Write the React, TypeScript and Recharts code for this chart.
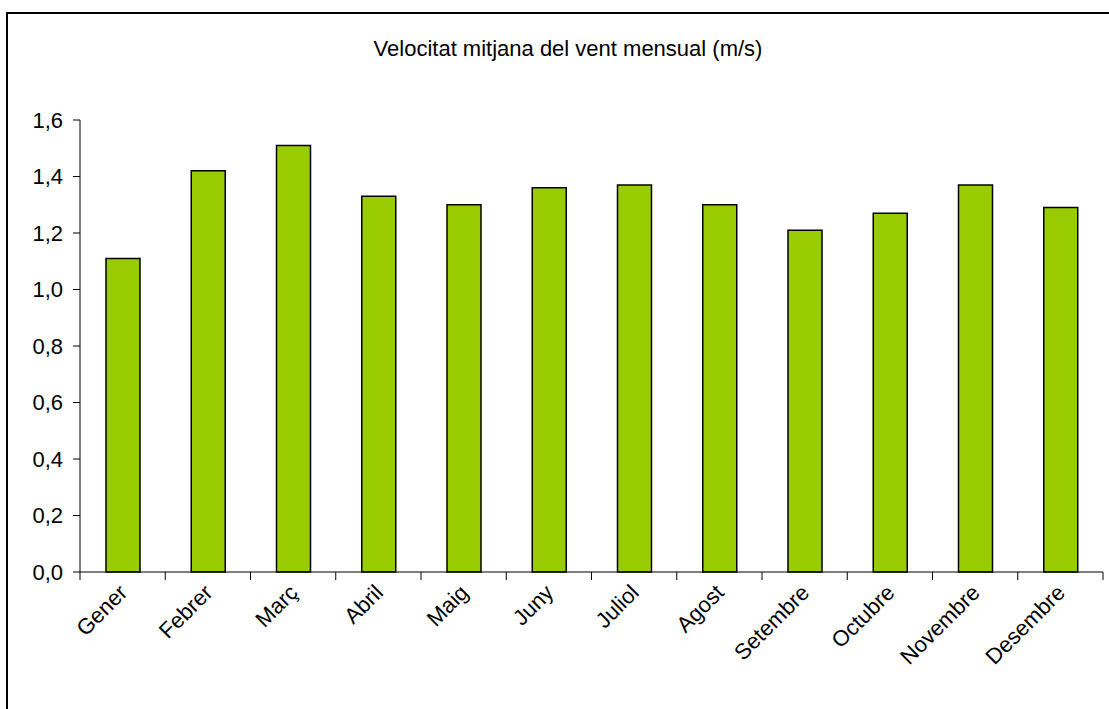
import { BarChart, Bar, XAxis, YAxis } from "recharts"

const months = [
  "Gener",
  "Febrer",
  "Març",
  "Abril",
  "Maig",
  "Juny",
  "Juliol",
  "Agost",
  "Setembre",
  "Octubre",
  "Novembre",
  "Desembre",
]

const windSpeed = [1.11, 1.42, 1.51, 1.33, 1.3, 1.36, 1.37, 1.3, 1.21, 1.27, 1.37, 1.29]

const yTicks = [0, 0.2, 0.4, 0.6, 0.8, 1.0, 1.2, 1.4, 1.6]

const title = "Velocitat mitjana del vent mensual (m/s)"

const W = 1109
const H = 709
const margin = { top: 120, right: 6, bottom: 0, left: 0 }
const yAxisWidth = 80
const xAxisHeight = 137
const band = (W - margin.left - margin.right - yAxisWidth) / months.length

const font = "'Liberation Sans', Arial, sans-serif"

const chartData = months.map((m, i) => ({ month: m, speed: windSpeed[i] }))

const MonthTick = (props: any) => {
  const { x, y, payload, index } = props
  const last = index === months.length - 1
  return (
    <g>
      <line x1={x - band / 2} y1={y - 8} x2={x - band / 2} y2={y} stroke="#000" />
      {last && <line x1={x + band / 2} y1={y - 8} x2={x + band / 2} y2={y} stroke="#000" />}
      <g transform={`translate(${x + 6},${y + 14})`}>
        <text
          textAnchor="end"
          transform="rotate(-45)"
          fontSize={22}
          fontFamily={font}
          fill="#000"
        >
          {payload.value}
        </text>
      </g>
    </g>
  )
}

const App = () => {
  return (
    <div style={{ position: "absolute", left: 0, top: 0, width: W, height: H, background: "#fff", overflow: "hidden" }}>
      <div
        style={{
          position: "absolute",
          left: 6,
          top: 12,
          width: W + 20,
          height: H + 20,
          border: "2px solid #000",
        }}
      />
      <div
        style={{
          position: "absolute",
          left: 568,
          top: 36,
          transform: "translateX(-50%)",
          whiteSpace: "nowrap",
          fontFamily: font,
          fontSize: 22,
          color: "#000",
        }}
      >
        {title}
      </div>
      <div style={{ position: "absolute", left: 0, top: 0 }}>
        <BarChart width={W} height={H} data={chartData} margin={margin} barSize={34}>
          <XAxis
            dataKey="month"
            axisLine={{ stroke: "#000" }}
            tickLine={false}
            tick={<MonthTick />}
            interval={0}
            height={xAxisHeight}
          />
          <YAxis
            domain={[0, 1.6]}
            ticks={yTicks}
            width={yAxisWidth}
            axisLine={{ stroke: "#000" }}
            tickLine={{ stroke: "#000" }}
            tickSize={7}
            tickMargin={10}
            tickFormatter={(v: number) => v.toFixed(1).replace(".", ",")}
            tick={{ fontSize: 22, fontFamily: font, fill: "#000" }}
          />
          <Bar dataKey="speed" fill="#99CC00" stroke="#000" strokeWidth={1.5} isAnimationActive={false} />
        </BarChart>
      </div>
    </div>
  )
}

export default App
